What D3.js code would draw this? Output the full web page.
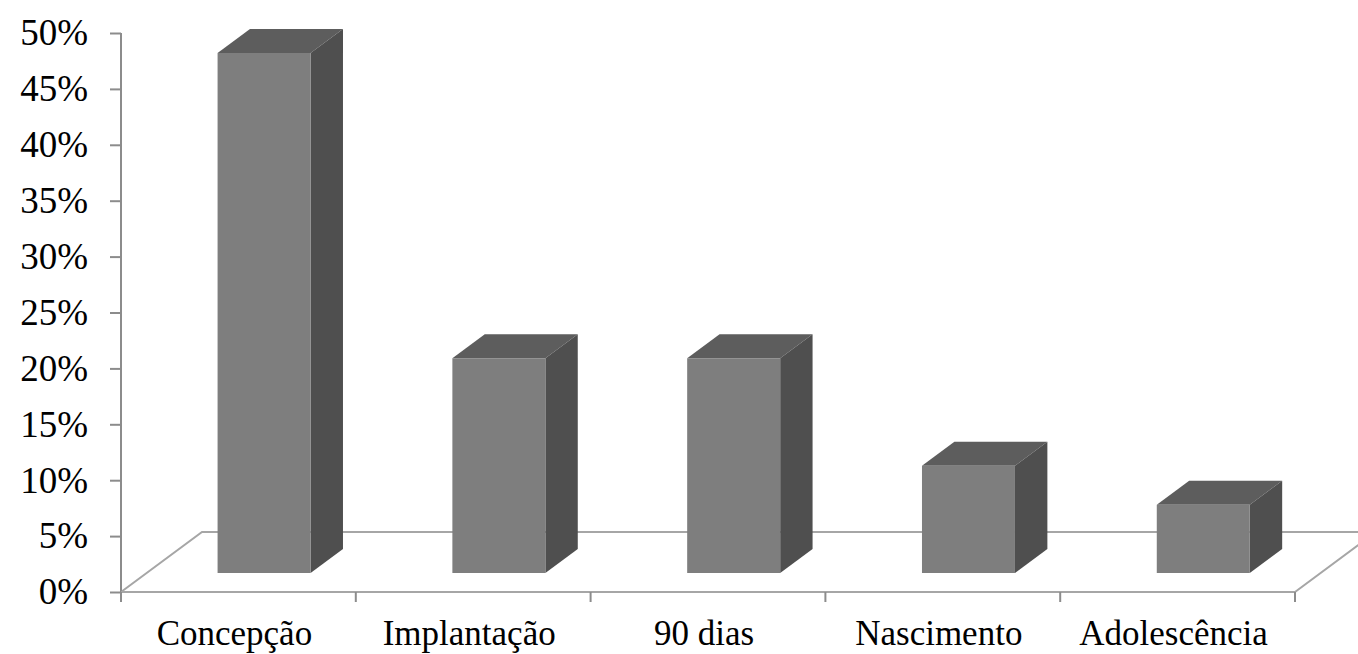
<!DOCTYPE html>
<html>
<head>
<meta charset="utf-8">
<script src="https://cdn.jsdelivr.net/npm/d3@7"></script>
<style>
  body { margin: 0; background: #fff; }
  svg text { font-family: "Liberation Serif", "Times New Roman", "DejaVu Serif", serif !important; }
</style>
</head>
<body>
<svg id="chart" width="1358" height="654"></svg>
<script>
var categories = ['Concepção', 'Implantação', '90 dias', 'Nascimento', 'Adolescência'];
var values = [0.465, 0.192, 0.192, 0.096, 0.061];
var yTicks = [0, 0.05, 0.10, 0.15, 0.20, 0.25, 0.30, 0.35, 0.40, 0.45, 0.50];

var svg = d3.select('#chart');

// front-left corner of the floor is (121, 592)
var x = d3.scaleBand().domain(categories).range([121, 1295]).paddingInner(0).paddingOuter(0);
var y = d3.scaleLinear().domain([0, 0.5]).range([592, 33]);

// oblique depth: full depth of floor
var depthX = 81, depthY = -60;
var barD0 = 0.317, barD1 = 0.717;
var barW = 93;

function pt(px, v, d) {
	return [px + d * depthX, y(v) + d * depthY];
}

// floor (back + sides), drawn first so bars cover it
var fl = svg.append('g').attr('fill', 'none').attr('stroke', '#a6a6a6').attr('stroke-width', 2);
var r0 = x.range()[0], r1 = x.range()[1];
fl.append('path').attr('d', d3.line()([pt(r0, 0, 0), pt(r0, 0, 1), pt(r1, 0, 1), pt(r1, 0, 0)]));

// bars
var bars = svg.append('g').selectAll('g').data(categories).enter().append('g');
bars.each(function (c, i) {
	var g = d3.select(this);
	var left = x(c) + (x.bandwidth() - barW) / 2;
	var right = left + barW;
	var v = values[i];
	var fl0 = pt(left, 0, barD0), fr0 = pt(right, 0, barD0);
	var tl0 = pt(left, v, barD0), tr0 = pt(right, v, barD0);
	var tl1 = pt(left, v, barD1), tr1 = pt(right, v, barD1);
	var br1 = pt(right, 0, barD1);
	// top
	g.append('path').attr('d', d3.line()([tl0, tr0, tr1, tl1]) + 'Z').attr('fill', '#5d5d5d');
	// side
	g.append('path').attr('d', d3.line()([fr0, tr0, tr1, br1]) + 'Z').attr('fill', '#4f4f4f');
	// front
	g.append('path').attr('d', d3.line()([fl0, fr0, tr0, tl0]) + 'Z').attr('fill', '#7e7e7e');
});

// value axis
var yAxis = svg.append('g').attr('transform', 'translate(121,0)')
	.call(d3.axisLeft(y).tickValues(yTicks).tickFormat(d3.format('.0%')).tickSize(11).tickPadding(22))
	.attr('font-family', null).attr('font-size', 37);
yAxis.select('.domain').attr('stroke', '#8c8c8c').attr('stroke-width', 2).attr('d', 'M0,' + y(0.5) + 'V' + y(0));
yAxis.selectAll('.tick line').attr('stroke', '#8c8c8c').attr('stroke-width', 2);
yAxis.selectAll('.tick text').attr('fill', '#000');

// category axis (front edge of floor)
var xAxis = svg.append('g').attr('transform', 'translate(0,' + y(0) + ')')
	.call(d3.axisBottom(x).tickSize(0).tickPadding(28))
	.attr('font-family', null).attr('font-size', 35);
xAxis.select('.domain').remove();
xAxis.append('line').attr('x1', r0).attr('x2', r1).attr('stroke', '#a6a6a6').attr('stroke-width', 2);
xAxis.selectAll('.sep').data(d3.range(categories.length + 1)).enter().append('line')
	.attr('x1', function (i) { return r0 + i * x.bandwidth(); })
	.attr('x2', function (i) { return r0 + i * x.bandwidth(); })
	.attr('y1', 0).attr('y2', 10)
	.attr('stroke', '#8c8c8c').attr('stroke-width', 2);
xAxis.selectAll('.tick text').attr('fill', '#000').attr('dx', -4);
</script>
</body>
</html>
